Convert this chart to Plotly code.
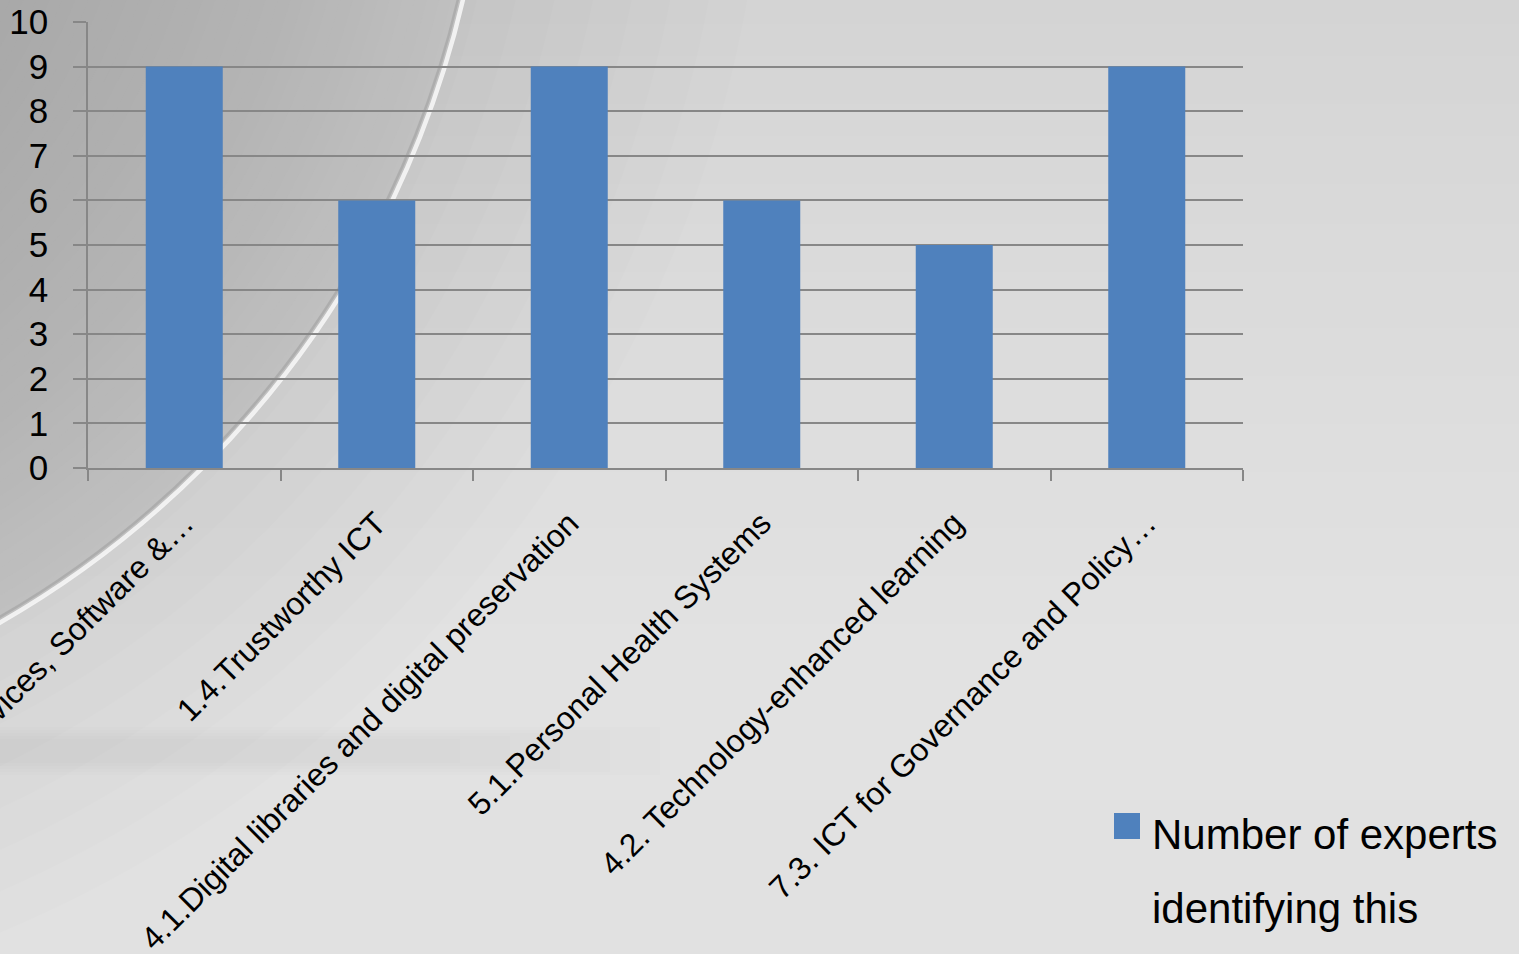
import numpy as np
import plotly.graph_objects as go

# Research areas and how many experts identified each one
categories = [
    "1.2.Internet of Services, Software &…",
    "1.4.Trustworthy ICT",
    "4.1.Digital libraries and digital preservation",
    "5.1.Personal Health Systems",
    "4.2. Technology-enhanced learning",
    "7.3. ICT for Governance and Policy…",
]
experts = [9, 6, 9, 6, 5, 9]
series_name = "Number of experts identifying this"
legend_lines = ["Number of experts", "identifying this"]
y_ticks = list(range(0, 11))

W, H = 1519, 954
PL, PR, PT, PB = 88, 1243, 22, 468  # plot area in pixels

FONT = "Arial, Liberation Sans, sans-serif"
BAR = "#4F81BD"
GRID = "#878787"


def px_x(p):
    return (p - PL) / (PR - PL)


def px_y(p):
    return (PB - p) / (PB - PT)


def gray(v, a=1.0):
    v = int(round(v))
    return f"rgba({v},{v},{v},{a})"


def circle(cx, cy, r, **kw):
    return dict(type="circle", xref="paper", yref="paper", layer="below",
                x0=px_x(cx - r), x1=px_x(cx + r), y0=px_y(cy + r), y1=px_y(cy - r), **kw)


def rect(x0, y0, x1, y1, **kw):
    return dict(type="rect", xref="paper", yref="paper", layer="below",
                x0=px_x(x0), x1=px_x(x1), y0=px_y(y1), y1=px_y(y0), **kw)


shapes = []

# Slide background: vertical gray gradient
stop_y = [0, 200, 450, 650, 954]
stop_g = [212, 217, 222, 226, 225]
step = 8
for y in range(0, H, step):
    shapes.append(rect(-5, y, W + 5, y + step + 1,
                       fillcolor=gray(np.interp(y + step / 2, stop_y, stop_g)),
                       line=dict(width=0)))

# Soft shadow around the big disc in the upper left
cx, cy = -483, -220
for r in np.linspace(1250, 985, 8):
    shapes.append(circle(cx, cy, r, fillcolor="rgba(0,0,0,0.008)", line=dict(width=0)))

# The disc itself, darker towards its centre
stop_r = [480, 800, 972]
stop_v = [166, 180, 192]
for r in np.arange(972, 470, -12):
    shapes.append(circle(cx, cy, r, fillcolor=gray(np.interp(r, stop_r, stop_v)),
                         line=dict(width=0)))

# Highlight rim along the edge of the disc
shapes.append(circle(cx, cy, 966, fillcolor="rgba(0,0,0,0)",
                     line=dict(color="rgba(150,150,150,0.45)", width=2.5)))
shapes.append(circle(cx, cy, 971, fillcolor="rgba(0,0,0,0)",
                     line=dict(color="rgba(246,246,246,0.9)", width=4.5)))

# Faint, soft-edged horizontal band in the lower left
for i in range(5):
    shapes.append(rect(0, 727 + 3 * i, 660 - 50 * i, 775 - 3 * i,
                       fillcolor="rgba(0,0,0,0.006)", line=dict(width=0)))

# Legend key
shapes.append(dict(
    type="rect", xref="paper", yref="paper", layer="above",
    x0=px_x(1114), x1=px_x(1140), y0=px_y(839), y1=px_y(813),
    fillcolor=BAR, line=dict(width=0),
))

annotations = [
    dict(text=legend_lines[0], xref="paper", yref="paper",
         x=px_x(1150), y=px_y(834), xanchor="left", yanchor="middle",
         showarrow=False, font=dict(family=FONT, size=42, color="black")),
    dict(text=legend_lines[1], xref="paper", yref="paper",
         x=px_x(1150), y=px_y(909), xanchor="left", yanchor="middle",
         showarrow=False, font=dict(family=FONT, size=42, color="black")),
]

fig = go.Figure()
fig.add_trace(go.Bar(
    x=categories, y=experts, name=series_name,
    marker=dict(color=BAR, line=dict(width=0)), width=0.4, showlegend=False,
))

fig.update_layout(
    width=W, height=H, autosize=False,
    margin=dict(l=PL, r=W - PR, t=PT, b=H - PB, pad=0),
    paper_bgcolor=gray(224), plot_bgcolor="rgba(0,0,0,0)",
    font=dict(family=FONT, color="black"),
    shapes=shapes, annotations=annotations, showlegend=False,
    xaxis=dict(
        type="category", tickson="boundaries", ticks="outside", ticklen=11,
        tickwidth=1.5, tickcolor=GRID, showline=True, linecolor=GRID, linewidth=1.5,
        showgrid=False, tickangle=-45, tickfont=dict(size=32, color="black"),
        ticklabelstandoff=22, automargin=False,
    ),
    yaxis=dict(
        range=[0, 10], tickvals=y_ticks, ticks="outside", ticklen=13,
        tickwidth=1.5, tickcolor=GRID, showline=True, linecolor=GRID, linewidth=1.5,
        showgrid=True, gridcolor=GRID, gridwidth=1.5, zeroline=False,
        tickfont=dict(size=35, color="black"), ticklabelstandoff=18,
        automargin=False,
    ),
)

fig.write_html("out.html", config={"displayModeBar": False})
